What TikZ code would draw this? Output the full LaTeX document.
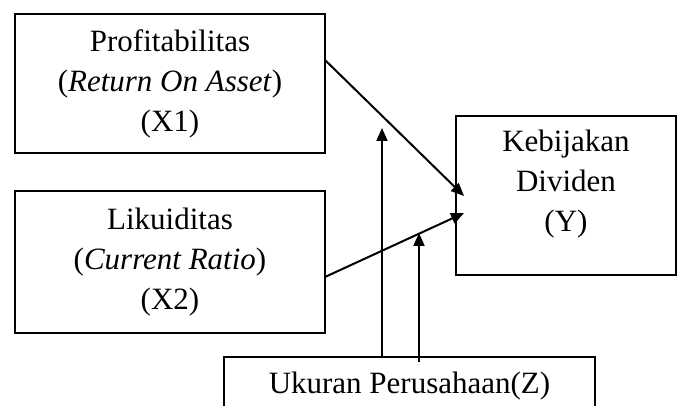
\documentclass[tikz,border=0pt]{standalone}
\usepackage{fontspec}
\setmainfont{Liberation Serif}
\usetikzlibrary{arrows.meta}
\begin{document}
\begin{tikzpicture}[x=1pt,y=1pt,
  box/.style={draw,line width=2pt,rectangle,inner sep=0pt},
  lbl/.style={align=center,font=\fontsize{31}{40}\selectfont,inner sep=0pt},
  arr/.style={line width=2pt,-{Triangle[length=13pt,width=11pt]}}]
\useasboundingbox (0,0) rectangle (677,406);
\begin{scope}
\clip (0,0) rectangle (677,406);
% boxes (y = 406 - pixel y)
\node[box,minimum width=310pt,minimum height=139pt] (x1) at (170,322.5) {};
\node[box,minimum width=310pt,minimum height=142pt] (x2) at (170,144) {};
\node[box,minimum width=220pt,minimum height=159pt] (y) at (566,210.5) {};
\node[box,minimum width=371pt,minimum height=100pt,anchor=north] (z) at (409.5,50) {};
\end{scope}
% labels
\node[lbl] (tx1) at (170,322) {Profitabilitas\\(\textit{Return On Asset})\\(X1)};
\node[lbl] (tx2) at (170,144) {Likuiditas\\(\textit{Current Ratio})\\(X2)};
\node[lbl] (ty) at (566,222) {Kebijakan\\Dividen\\(Y)};
\node[lbl] (tz) at (409.5,20) {Ukuran Perusahaan(Z)};
% connector end points
\coordinate (s1) at (325,346);
\coordinate (t1) at (464,210);
\coordinate (s2) at (325,129);
\coordinate (t2) at (464,193);
\coordinate (zs1) at (382,50);
\coordinate (zt1) at (382,278);
\coordinate (zs2) at (419,44);
\coordinate (zt2) at (419,173);
\draw[arr] (s1) -- (t1);
\draw[arr] (s2) -- (t2);
\draw[arr] (zs1) -- (zt1);
\draw[arr] (zs2) -- (zt2);
\end{tikzpicture}
\end{document}
